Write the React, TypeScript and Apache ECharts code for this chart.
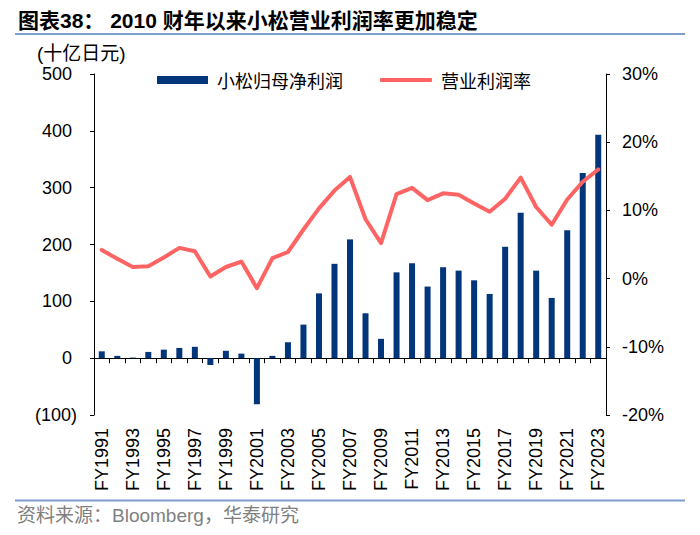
import React, { useEffect, useRef } from "react";
import * as echarts from "echarts";

const categories = [
  "FY1991", "FY1992", "FY1993", "FY1994", "FY1995", "FY1996", "FY1997", "FY1998",
  "FY1999", "FY2000", "FY2001", "FY2002", "FY2003", "FY2004", "FY2005", "FY2006",
  "FY2007", "FY2008", "FY2009", "FY2010", "FY2011", "FY2012", "FY2013", "FY2014",
  "FY2015", "FY2016", "FY2017", "FY2018", "FY2019", "FY2020", "FY2021", "FY2022", "FY2023",
];

// 小松归母净利润 (十亿日元)
const netProfit = [
  12, 4, 1, 11, 15, 18, 20, -12, 13, 8, -81, 4, 28, 59, 114, 166, 209, 79, 34, 151,
  167, 126, 160, 154, 137, 113, 196, 256, 154, 106, 225, 326, 393,
];

// 营业利润率 (%)
const opMargin = [
  4.2, 2.9, 1.7, 1.8, 3.1, 4.5, 4.0, 0.3, 1.7, 2.5, -1.4, 3.0, 3.9, 7.2, 10.3, 12.9,
  14.9, 8.7, 5.2, 12.4, 13.3, 11.5, 12.5, 12.3, 11.0, 9.8, 11.7, 14.8, 10.5, 7.9, 11.6,
  14.2, 16.0,
];

const leftTicks = { min: -100, max: 500, interval: 100 };
const rightTicks = { min: -20, max: 30, interval: 10 };

const titleText = "图表38： 2010 财年以来小松营业利润率更加稳定";
const unitText = "(十亿日元)";
const sourceText = "资料来源：Bloomberg，华泰研究";
const seriesNames = ["小松归母净利润", "营业利润率"];

const FONT = "'Liberation Sans', Arial, 'Noto Sans CJK SC', sans-serif";
const BAR_COLOR = "#02357A";
const LINE_COLOR = "#FF6464";

export default function App() {
  const ref = useRef<HTMLDivElement>(null);
  useEffect(() => {
    if (!ref.current) return;
    const chart = echarts.init(ref.current, null, { renderer: "svg" });
    const legendText = {
      fontSize: 18,
      color: "#000",
      fontFamily: "'Noto Sans CJK SC', sans-serif",
      padding: [0, 0, 0, 4],
    };
    const option = {
      animation: false,
      backgroundColor: "#ffffff",
      textStyle: { fontFamily: FONT },
      grid: { left: 94, right: 94, top: 74, bottom: 120, containLabel: false },
      legend: [
        {
          left: 157,
          top: 71,
          padding: 0,
          itemWidth: 51,
          itemHeight: 8,
          data: [{ name: seriesNames[0], icon: "rect" }],
          textStyle: legendText,
        },
        {
          left: 380,
          top: 71,
          padding: 0,
          itemWidth: 52,
          itemHeight: 4,
          data: [{ name: seriesNames[1], icon: "roundRect" }],
          itemStyle: { color: LINE_COLOR },
          textStyle: legendText,
        },
      ],
      graphic: [
        {
          type: "text",
          left: 18,
          top: 10,
          style: {
            text: titleText,
            fontSize: 21,
            fontWeight: "bold",
            fill: "#000",
            fontFamily: FONT,
          },
        },
        {
          type: "line",
          shape: { x1: 15, y1: 34, x2: 685, y2: 34 },
          style: { stroke: "#7F9FCB", lineWidth: 2 },
        },
        {
          type: "text",
          left: 37,
          top: 44,
          style: {
            text: unitText,
            fontSize: 19,
            fill: "#000",
            fontFamily: FONT,
          },
        },
        {
          type: "line",
          shape: { x1: 15, y1: 500.5, x2: 685, y2: 500.5 },
          style: { stroke: "#7F9FCB", lineWidth: 2 },
        },
        {
          type: "text",
          left: 17,
          top: 506,
          style: {
            text: sourceText,
            fontSize: 19,
            fill: "#7F7F7F",
            fontFamily: FONT,
          },
        },
      ],
      xAxis: [
        {
          type: "category",
          data: categories,
          position: "bottom",
          axisLine: { show: true, onZero: true, onZeroAxisIndex: 0, lineStyle: { color: "#000", width: 1 } },
          axisTick: { show: true, interval: 0, length: 5, inside: false, lineStyle: { color: "#000" } },
          axisLabel: { show: false },
          splitLine: { show: false },
        },
        {
          type: "category",
          data: categories,
          position: "bottom",
          axisLine: { show: false, onZero: false },
          axisTick: { show: false },
          axisLabel: {
            show: true,
            rotate: 90,
            interval: 1,
            margin: 13,
            fontSize: 18,
            color: "#000",
            fontFamily: FONT,
          },
          splitLine: { show: false },
        },
      ],
      yAxis: [
        {
          type: "value",
          min: leftTicks.min,
          max: leftTicks.max,
          interval: leftTicks.interval,
          position: "left",
          axisLine: { show: true, lineStyle: { color: "#000", width: 1 } },
          axisTick: { show: true, length: 4, lineStyle: { color: "#000" } },
          splitLine: { show: false },
          axisLabel: {
            margin: 17,
            fontSize: 18,
            color: "#000",
            formatter: (v: number) => (v < 0 ? `{n|(${Math.abs(v)})}` : `{p|${v}}`),
            rich: {
              p: { fontSize: 18, fontFamily: FONT, color: "#000", padding: [0, 5, 0, 0] },
              n: { fontSize: 18, fontFamily: FONT, color: "#000" },
            },
          },
        },
        {
          type: "value",
          min: rightTicks.min,
          max: rightTicks.max,
          interval: rightTicks.interval,
          position: "right",
          axisLine: { show: true, lineStyle: { color: "#000", width: 1 } },
          axisTick: { show: true, length: 4, lineStyle: { color: "#000" } },
          splitLine: { show: false },
          axisLabel: {
            margin: 16,
            fontSize: 18,
            color: "#000",
            fontFamily: FONT,
            formatter: (v: number) => `${v}%`,
          },
        },
      ],
      series: [
        {
          name: seriesNames[0],
          type: "bar",
          xAxisIndex: 0,
          yAxisIndex: 0,
          data: netProfit,
          barWidth: 6,
          itemStyle: { color: BAR_COLOR },
          z: 2,
        },
        {
          name: seriesNames[1],
          type: "line",
          xAxisIndex: 0,
          yAxisIndex: 1,
          data: opMargin,
          symbol: "none",
          showSymbol: false,
          smooth: false,
          lineStyle: { color: LINE_COLOR, width: 4, cap: "round", join: "round" },
          itemStyle: { color: LINE_COLOR },
          z: 3,
        },
      ],
    };
    chart.setOption(option as any);
    return () => chart.dispose();
  }, []);
  return (
    <div
      ref={ref}
      style={{ position: "absolute", left: 0, top: 0, width: 700, height: 535, background: "#fff" }}
    />
  );
}
